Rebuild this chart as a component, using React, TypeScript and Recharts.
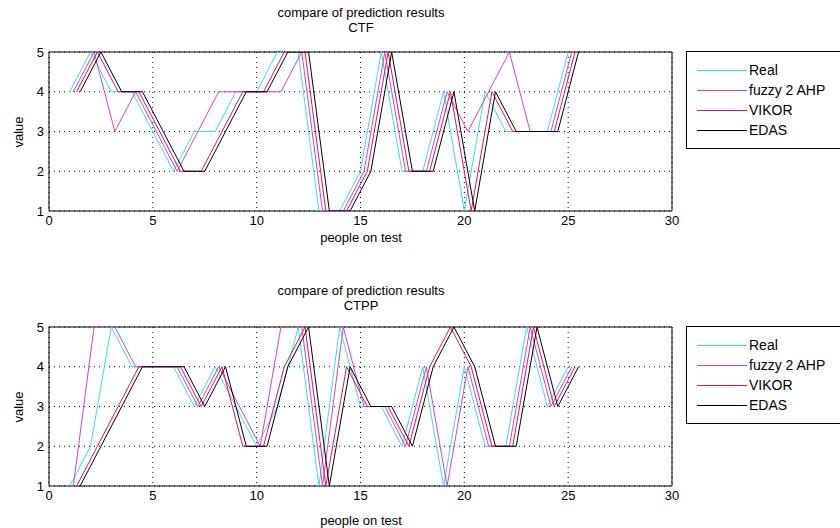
import React from 'react';
import { LineChart, Line, XAxis, YAxis, CartesianGrid, ReferenceArea, Legend } from 'recharts';

const people = [1, 2, 3, 4, 5, 6, 7, 8, 9, 10, 11, 12, 13, 14, 15, 16, 17, 18, 19, 20, 21, 22, 23, 24, 25];
const seriesNames = ['Real', 'fuzzy 2 AHP', 'VIKOR', 'EDAS'];
const seriesColors = ['#35e3d6', '#e03ccc', '#e0145e', '#000000'];
// each method is drawn a little to the right of the previous one
const seriesShift = [0, 0.17, 0.33, 0.5];

const ctfReal = [4, 5, 4, 4, 3, 2, 3, 3, 4, 4, 5, 5, 1, 1, 2, 5, 2, 2, 4, 1, 4, 3, 3, 3, 5];
const ctfFuzzy = [4, 5, 3, 4, 3, 2, 3, 4, 4, 4, 4, 5, 1, 1, 2, 5, 2, 2, 4, 3, 4, 5, 3, 3, 5];
const ctfVikor = [4, 5, 4, 4, 3, 2, 2, 3, 4, 4, 5, 5, 1, 1, 2, 5, 2, 2, 4, 1, 4, 3, 3, 3, 5];
const ctfEdas = [4, 5, 4, 4, 3, 2, 2, 3, 4, 4, 5, 5, 1, 1, 2, 5, 2, 2, 4, 1, 4, 3, 3, 3, 5];

const ctppReal = [1, 2, 5, 4, 4, 4, 3, 4, 3, 2, 3, 5, 1, 5, 3, 3, 2, 4, 1, 4, 2, 2, 5, 3, 4];
const ctppFuzzy = [1, 5, 5, 4, 4, 4, 3, 4, 3, 2, 5, 5, 1, 5, 3, 3, 2, 4, 1, 4, 2, 2, 5, 3, 4];
const ctppVikor = [1, 2, 3, 4, 4, 4, 3, 4, 2, 2, 4, 5, 1, 4, 3, 3, 2, 4, 5, 4, 2, 2, 5, 3, 4];
const ctppEdas = [1, 2, 3, 4, 4, 4, 3, 4, 2, 2, 4, 5, 1, 4, 3, 3, 2, 4, 5, 4, 2, 2, 5, 3, 4];

const xTicks = [0, 5, 10, 15, 20, 25, 30];
const yTicks = [1, 2, 3, 4, 5];

const FONT = '"Liberation Sans", Arial, sans-serif';

// legend keeps the plotting order (recharts sorts by name otherwise)
const LegendBox = () => (
  <div
    style={{
      border: '1px solid #000',
      background: '#fff',
      width: 170,
      height: 98,
      boxSizing: 'border-box',
      padding: '8px 0 0 10px',
    }}
  >
    {seriesNames.map((name, k) => (
      <div key={name} style={{ display: 'flex', alignItems: 'center', height: 20 }}>
        <div style={{ width: 50, height: 1, background: seriesColors[k], flex: 'none' }} />
        <span style={{ fontSize: 14, color: '#000', marginLeft: 2, lineHeight: '20px' }}>{name}</span>
      </div>
    ))}
  </div>
);

interface PanelProps {
  sub: string;
  series: number[][];
  plotTop: number;
  titleY: number;
  subY: number;
  xLabelY: number;
  legendTop: number;
}

const Panel = ({ sub, series, plotTop, titleY, subY, xLabelY, legendTop }: PanelProps) => {
  const plotH = 159;
  const lines = series.map((vals, k) => vals.map((v, i) => ({ x: people[i] + seriesShift[k], value: v })));
  return (
    <div style={{ position: 'relative', width: 840, height: 264 }}>
      <LineChart
        width={840}
        height={264}
        margin={{ top: plotTop, right: 168, bottom: 264 - plotTop - plotH - 30, left: 19 }}
      >
        <CartesianGrid stroke="#000" strokeDasharray="1 4" />
        <XAxis
          type="number"
          dataKey="x"
          domain={[0, 30]}
          ticks={xTicks}
          allowDataOverflow
          height={30}
          axisLine={false}
          tickLine={false}
          tickSize={4}
          tickMargin={1}
          tick={{ fill: '#000', fontSize: 13 }}
        />
        <YAxis
          type="number"
          domain={[1, 5]}
          ticks={yTicks}
          allowDataOverflow
          width={30}
          axisLine={false}
          tickLine={false}
          tickSize={4}
          tickMargin={1}
          tick={{ fill: '#000', fontSize: 13 }}
        />
        <ReferenceArea x1={0} x2={30} y1={1} y2={5} fill="none" stroke="#000" ifOverflow="visible" />
        {lines.map((d, k) => (
          <Line
            key={seriesNames[k]}
            data={d}
            dataKey="value"
            name={seriesNames[k]}
            stroke={seriesColors[k]}
            strokeWidth={1}
            dot={false}
            activeDot={false}
            isAnimationActive={false}
          />
        ))}
        <Legend
          layout="vertical"
          align="center"
          verticalAlign="middle"
          wrapperStyle={{ left: 686, top: legendTop, width: 170, height: 98 }}
          content={() => <LegendBox />}
        />
      </LineChart>
      <div style={{ position: 'absolute', left: 361, top: titleY, transform: 'translate(-50%, -50%)', fontSize: 13, whiteSpace: 'nowrap' }}>
        compare of prediction results
      </div>
      <div style={{ position: 'absolute', left: 361, top: subY, transform: 'translate(-50%, -50%)', fontSize: 13, whiteSpace: 'nowrap' }}>
        {sub}
      </div>
      <div style={{ position: 'absolute', left: 361, top: xLabelY, transform: 'translate(-50%, -50%)', fontSize: 13, whiteSpace: 'nowrap' }}>
        people on test
      </div>
      <div
        style={{
          position: 'absolute',
          left: 18,
          top: plotTop + plotH / 2,
          transform: 'translate(-50%, -50%) rotate(-90deg)',
          fontSize: 13,
          whiteSpace: 'nowrap',
        }}
      >
        value
      </div>
    </div>
  );
};

export default function App() {
  return (
    <div
      style={{
        position: 'absolute',
        left: 0,
        top: 0,
        width: 840,
        height: 528,
        overflow: 'hidden',
        background: '#fff',
        fontFamily: FONT,
        color: '#000',
      }}
    >
      <Panel
        sub="CTF"
        series={[ctfReal, ctfFuzzy, ctfVikor, ctfEdas]}
        plotTop={52}
        titleY={12}
        subY={27}
        xLabelY={237}
        legendTop={51}
      />
      <Panel
        sub="CTPP"
        series={[ctppReal, ctppFuzzy, ctppVikor, ctppEdas]}
        plotTop={63}
        titleY={26}
        subY={41}
        xLabelY={256}
        legendTop={62}
      />
    </div>
  );
}
